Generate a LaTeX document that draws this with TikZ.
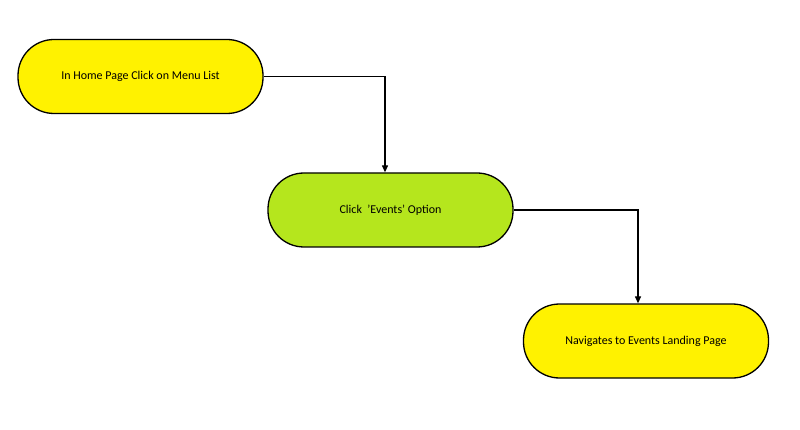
\documentclass[tikz,border=0pt]{standalone}
\usepackage{fontspec}
\setmainfont{Carlito}
\usetikzlibrary{arrows.meta}
\definecolor{yel}{HTML}{FFF200}
\definecolor{grn}{HTML}{B5E61D}
\tikzset{pill/.style={draw=black,line width=1.3pt,rounded corners=36pt,minimum width=245pt,minimum height=74pt,font=\fontsize{12}{14}\selectfont},
conn/.style={line width=1.2pt,-{Triangle[length=7pt,width=6pt]}}}
\begin{document}
\begin{tikzpicture}[x=1pt,y=-1pt]
\useasboundingbox (0,0) rectangle (800,430);
\node[pill,fill=yel] (a) at (140.5,76.5) {In Home Page Click on Menu List};
\node[pill,fill=grn] (b) at (390.5,210) {Click\ \ 'Events' Option};
\node[pill,fill=yel] (c) at (646,341) {Navigates to Events Landing Page};
\draw[conn] (a.east) -| ([xshift=-5.5pt]b.north);
\draw[conn] (b.east) -| ([xshift=-8pt]c.north);
\end{tikzpicture}
\end{document}
